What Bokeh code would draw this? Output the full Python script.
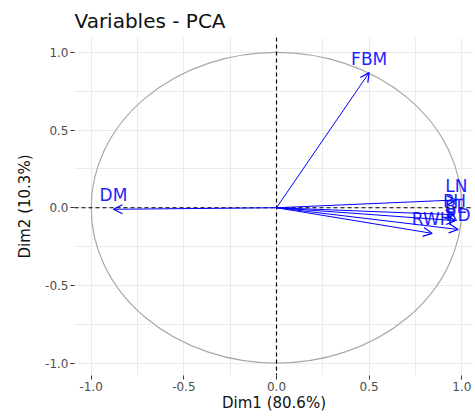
from bokeh.plotting import figure
from bokeh.models import ColumnDataSource, Arrow, OpenHead, Range1d, SingleIntervalTicker, NumeralTickFormatter, Span
from bokeh.embed import file_html
from bokeh.resources import INLINE

# Variable coordinates on Dim1 / Dim2
variables = ["FBM", "DM", "LN", "PH", "BL", "RD", "RWH"]
dim1 = [0.50, -0.88, 0.97, 0.96, 0.965, 0.98, 0.84]
dim2 = [0.87, -0.01, 0.05, -0.045, -0.083, -0.14, -0.165]

BLUE = "#0000FF"
FONT = "DejaVu Sans"

src = ColumnDataSource(dict(x0=[0.0] * len(variables), y0=[0.0] * len(variables),
                            x=dim1, y=dim2, name=variables))

p = figure(width=473, height=414, output_backend="svg", toolbar_location=None,
           x_range=Range1d(-1.09, 1.063), y_range=Range1d(-1.08, 1.096),
           min_border_left=74, min_border_right=0, min_border_top=37, min_border_bottom=0,
           title="Variables - PCA")
p.outline_line_color = None
p.background_fill_color = "white"

p.title.text_font = FONT
p.title.text_font_size = "20px"
p.title.text_font_style = "normal"
p.title.text_color = "#111111"

for ax in (p.xaxis, p.yaxis):
    ax.ticker = SingleIntervalTicker(interval=0.5, num_minor_ticks=2)
    ax.formatter = NumeralTickFormatter(format="0.0")
    ax.axis_line_color = None
    ax.major_tick_line_color = "#333333"
    ax.major_tick_out = 4
    ax.major_tick_in = 0
    ax.minor_tick_line_color = None
    ax.major_label_text_font = FONT
    ax.major_label_text_font_size = "12px"
    ax.major_label_text_color = "#4D4D4D"
    ax.axis_label_text_font = FONT
    ax.axis_label_text_font_size = "15px"
    ax.axis_label_text_font_style = "normal"
    ax.axis_label_text_color = "#111111"
    ax.major_label_standoff = 2
    ax.axis_label_standoff = 0

p.yaxis.axis_label_standoff = 8
p.xaxis.axis_label = "Dim1 (80.6%)"
p.yaxis.axis_label = "Dim2 (10.3%)"

for g in (p.xgrid, p.ygrid):
    g.ticker = SingleIntervalTicker(interval=0.5, num_minor_ticks=2)
    g.grid_line_color = "#EBEBEB"
    g.grid_line_width = 1
    g.minor_grid_line_color = "#EBEBEB"
    g.minor_grid_line_width = 1

# correlation circle (radius 1 in data units)
p.ellipse(x=0, y=0, width=2, height=2, fill_alpha=0, line_color="#A8A8A8", line_width=1.2)

# zero lines
p.add_layout(Span(location=0, dimension="width", line_color="black", line_dash="4 3", line_width=1.2))
p.add_layout(Span(location=0, dimension="height", line_color="black", line_dash="4 3", line_width=1.2))

# arrows
p.add_layout(Arrow(end=OpenHead(size=9, line_color=BLUE, line_width=1.2),
                   x_start="x0", y_start="y0", x_end="x", y_end="y",
                   line_color=BLUE, line_width=1, source=src))

p.text(x="x", y="y", text="name", source=src, text_align="center", text_baseline="middle",
       y_offset=-14, text_color="#1F1FFF", text_font_size="17px", text_font={"value": FONT})

open("out.html", "w").write(file_html(p, INLINE))
